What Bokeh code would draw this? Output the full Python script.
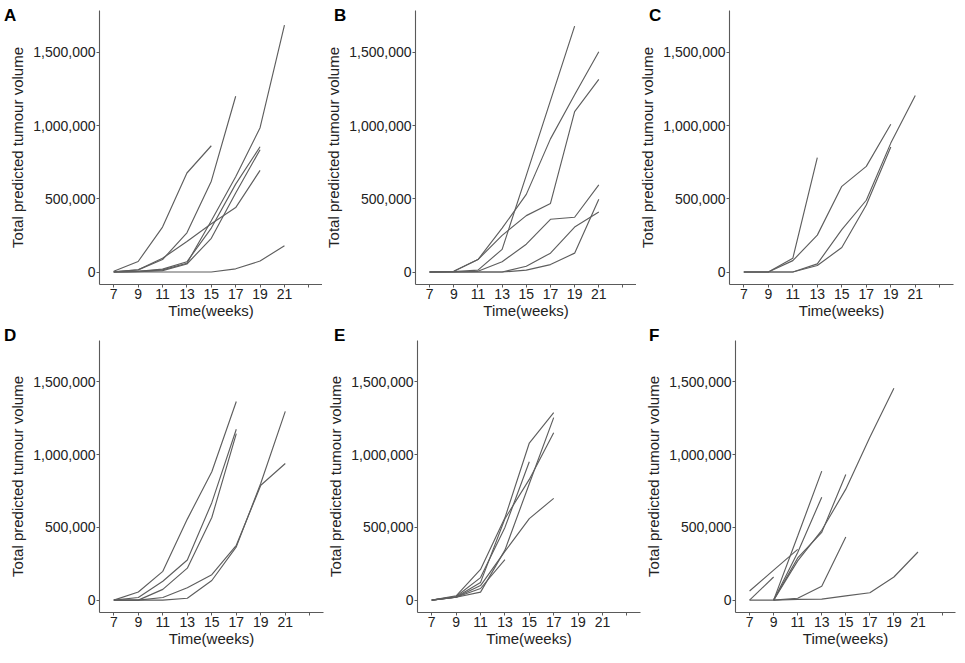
from bokeh.plotting import figure
from bokeh.models import Range1d, FixedTicker, NumeralTickFormatter, Div
from bokeh.layouts import column, row
from bokeh.embed import file_html
from bokeh.resources import INLINE

# ---------------- data ----------------
weeks = [7, 9, 11, 13, 15, 17, 19, 21]
x_ticks = [7, 9, 11, 13, 15, 17, 19, 21, 23]
y_ticks = [0, 500000, 1000000, 1500000]
letters = ["A", "B", "C", "D", "E", "F"]
x_label = "Time(weeks)"
y_label = "Total predicted tumour volume"

N = None
panel_a = [
    [5000, 72000, 307000, 676000, 862000, N, N, N],
    [2000, 15000, 85000, 268000, 620000, 1200000, N, N],
    [0, 5000, 15000, 60000, 350000, 650000, 985000, 1685000],
    [0, 5000, 20000, 70000, 300000, 600000, 855000, N],
    [0, 3000, 10000, 55000, 230000, 540000, 835000, N],
    [2000, 15000, 94000, 208000, 330000, 440000, 694000, N],
    [0, 0, 0, 0, 0, 22000, 75000, 180000],
]
panel_b = [
    [0, 3000, 13000, 155000, 660000, 1170000, 1678000, N],
    [0, 5000, 85000, 300000, 530000, 909000, 1210000, 1504000],
    [0, 5000, 85000, 250000, 385000, 468000, 1095000, 1315000],
    [0, 0, 5000, 70000, 190000, 360000, 374000, 595000],
    [0, 0, 0, 0, 40000, 129000, 307000, 410000],
    [0, 0, 0, 0, 13000, 51000, 129000, 497000],
]
panel_c = [
    [0, 0, 94000, 781000, N, N, N, N],
    [0, 0, 78000, 252000, 585000, 721000, 1009000, N],
    [0, 0, 0, 56000, 290000, 490000, 880000, 1205000],
    [0, 0, 0, 45000, 167000, 458000, 853000, N],
]
panel_d = [
    [0, 56000, 198000, 557000, 883000, 1366000, N, N],
    [0, 18000, 130000, 276000, 670000, 1175000, N, N],
    [0, 0, 74000, 220000, 568000, 1145000, N, N],
    [0, 0, 18000, 85000, 175000, 377000, 790000, 939000],
    [0, 0, 0, 13000, 135000, 366000, 804000, 1298000],
]
panel_e = [
    [0, 30000, 211000, 566000, 1080000, 1289000, N, N],
    [0, 25000, 155000, 500000, 951000, N, N, N],
    [0, 20000, 55000, 344000, 800000, 1255000, N, N],
    [0, 22000, 122000, 560000, 830000, 1151000, N, N],
    [0, 20000, 100000, 335000, 560000, 700000, N, N],
    [0, 20000, 80000, 278000, N, N, N, N],
]
panel_f = [
    [63000, 206000, 349000, N, N, N, N, N],
    [0, 159000, N, N, N, N, N, N],
    [N, 0, 441000, 887000, N, N, N, N],
    [N, 0, 327000, 708000, N, N, N, N],
    [N, 0, 290000, 466000, 864000, N, N, N],
    [N, 0, 270000, 480000, 763000, 1120000, 1457000, N],
    [N, 0, 13000, 96000, 434000, N, N, N],
    [0, 0, 5000, 7000, 29000, 51000, 159000, 331000],
]

# ---------------- styling ----------------
FONT = "Liberation Sans"
LINE_COLOR = "#5e5e5e"
AXIS_COLOR = "#5a5a5a"
TEXT_COLOR = "#222222"
XR = (5.83, 24.12)
YR = (-85000, 1785000)


def make_panel(series, width, height, left, right, top, bottom):
    p = figure(width=width, height=height, output_backend="svg",
               toolbar_location=None, tools="",
               x_range=Range1d(*XR), y_range=Range1d(*YR),
               min_border_left=left, min_border_right=right,
               min_border_top=top, min_border_bottom=bottom)
    p.outline_line_color = None
    p.grid.visible = False
    p.background_fill_color = "white"
    p.border_fill_color = "white"

    for s in series:
        xs = [w for w, v in zip(weeks, s) if v is not None]
        ys = [v for v in s if v is not None]
        p.line(xs, ys, line_color=LINE_COLOR, line_width=1.15)

    p.xaxis.ticker = FixedTicker(ticks=x_ticks)
    p.xaxis.major_label_overrides = {23: ""}
    p.yaxis.ticker = FixedTicker(ticks=y_ticks)
    p.yaxis.formatter = NumeralTickFormatter(format="0,0")
    p.xaxis.axis_label = x_label
    p.yaxis.axis_label = y_label
    for ax in (p.xaxis, p.yaxis):
        ax.axis_line_color = AXIS_COLOR
        ax.axis_line_width = 1.1
        ax.major_tick_line_color = AXIS_COLOR
        ax.major_tick_in = 0
        ax.major_tick_out = 3
        ax.minor_tick_line_color = None
        ax.major_label_text_font = FONT
        ax.major_label_text_font_size = "14px"
        ax.major_label_text_color = TEXT_COLOR
        ax.major_label_standoff = 1
        ax.axis_label_text_font = FONT
        ax.axis_label_text_font_size = "15px"
        ax.axis_label_text_font_style = "normal"
        ax.axis_label_text_color = TEXT_COLOR
    p.xaxis.axis_label_standoff = 0
    p.yaxis.axis_label_standoff = 4
    return p


# top row (height 334)
pa = make_panel(panel_a, 322, 334, 99, 0, 10, 48)
pb = make_panel(panel_b, 314, 334, 92, 0, 7, 50)
pc = make_panel(panel_c, 328, 334, 93, 11, 7, 48)
# bottom row (height 328)
pd = make_panel(panel_d, 324, 328, 99, 1, 6, 48)
pe = make_panel(panel_e, 318, 328, 92, 2, 0, 48)
pf = make_panel(panel_f, 322, 328, 90, 9, 0, 50)

# panel letters, overlaid at the top-left of each panel
letter_pos = [(-1, 2), (329, 2), (644, 2), (-1, 322), (329, 322), (644, 322)]
spans = "".join(
    '<span style="position:absolute;left:%dpx;top:%dpx;font-family:\'Liberation Sans\';'
    'font-weight:bold;font-size:17px;line-height:17px;color:#000;">%s</span>' % (lx, ly, t)
    for t, (lx, ly) in zip(letters, letter_pos))
letters_div = Div(text=spans, width=1, height=1,
                  styles={"position": "absolute", "left": "0px", "top": "0px",
                          "overflow": "visible", "z-index": "10"})

layout = column(letters_div, row(pa, pb, pc), row(pd, pe, pf))
open("out.html", "w").write(file_html(layout, INLINE))
